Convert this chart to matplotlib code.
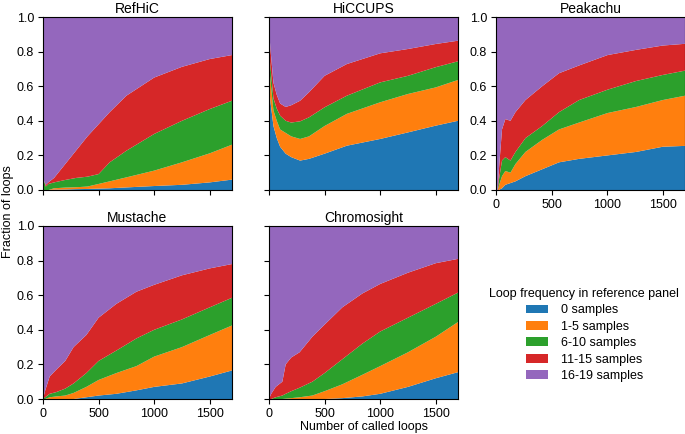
import matplotlib
matplotlib.use("Agg")
import matplotlib.pyplot as plt
import numpy as np

plt.rcParams['font.family'] = ['Liberation Sans', 'DejaVu Sans']

groups = ["0 samples", "1-5 samples", "6-10 samples", "11-15 samples", "16-19 samples"]
colors = ["#1f77b4", "#ff7f0e", "#2ca02c", "#d62728", "#9467bd"]

# cumulative upper edges (blue, orange, green, red); purple fills to 1
refhic_x = [0, 10, 25, 50, 100, 200, 300, 400, 500, 600, 750, 1000, 1250, 1500, 1700]
refhic_blue = [0, 0, 0, 0, 0.002, 0.003, 0.005, 0.006, 0.008, 0.010, 0.015, 0.023, 0.030, 0.044, 0.060]
refhic_orange = [0, 0, 0, 0, 0.010, 0.014, 0.016, 0.020, 0.035, 0.050, 0.073, 0.112, 0.160, 0.212, 0.262]
refhic_green = [0.10, 0.05, 0.02, 0.035, 0.044, 0.058, 0.070, 0.077, 0.092, 0.160, 0.227, 0.324, 0.400, 0.468, 0.516]
refhic_red = [0.10, 0.05, 0.03, 0.045, 0.070, 0.150, 0.230, 0.310, 0.380, 0.450, 0.545, 0.650, 0.712, 0.757, 0.780]

hiccups_x = [0, 15, 40, 70, 100, 150, 200, 280, 360, 500, 700, 1000, 1250, 1500, 1700]
hiccups_blue = [0.60, 0.50, 0.37, 0.30, 0.25, 0.21, 0.19, 0.17, 0.18, 0.21, 0.256, 0.295, 0.333, 0.372, 0.40]
hiccups_orange = [0.72, 0.62, 0.46, 0.40, 0.35, 0.33, 0.31, 0.295, 0.31, 0.37, 0.44, 0.507, 0.555, 0.593, 0.636]
hiccups_green = [0.80, 0.70, 0.53, 0.47, 0.43, 0.40, 0.39, 0.397, 0.42, 0.478, 0.545, 0.622, 0.66, 0.71, 0.744]
hiccups_red = [0.93, 0.80, 0.62, 0.55, 0.50, 0.48, 0.49, 0.516, 0.565, 0.66, 0.728, 0.79, 0.815, 0.844, 0.863]

peakachu_x = [0, 15, 24, 54, 84, 130, 175, 265, 416, 567, 748, 1004, 1260, 1500, 1700]
peakachu_blue = [0, 0, 0, 0.01, 0.03, 0.04, 0.05, 0.08, 0.12, 0.16, 0.18, 0.20, 0.22, 0.25, 0.255]
peakachu_orange = [0, 0, 0.02, 0.08, 0.11, 0.10, 0.15, 0.22, 0.29, 0.35, 0.39, 0.445, 0.48, 0.52, 0.545]
peakachu_green = [0, 0, 0.05, 0.17, 0.19, 0.17, 0.22, 0.30, 0.37, 0.45, 0.52, 0.58, 0.63, 0.665, 0.69]
peakachu_red = [0, 0, 0.10, 0.35, 0.41, 0.40, 0.45, 0.52, 0.60, 0.675, 0.72, 0.78, 0.81, 0.835, 0.845]

mustache_x = [0, 20, 60, 120, 200, 275, 390, 500, 660, 840, 1000, 1250, 1500, 1700]
mustache_blue = [0, 0, 0, 0, 0, 0, 0.01, 0.02, 0.03, 0.05, 0.07, 0.09, 0.13, 0.165]
mustache_orange = [0, 0, 0.01, 0.015, 0.02, 0.035, 0.07, 0.11, 0.15, 0.19, 0.245, 0.30, 0.37, 0.425]
mustache_green = [0, 0.01, 0.03, 0.04, 0.06, 0.09, 0.15, 0.22, 0.28, 0.35, 0.40, 0.46, 0.53, 0.585]
mustache_red = [0, 0.05, 0.13, 0.17, 0.22, 0.30, 0.37, 0.47, 0.55, 0.62, 0.66, 0.715, 0.755, 0.78]

chromo_x = [0, 20, 60, 120, 150, 200, 275, 390, 500, 660, 840, 1000, 1250, 1500, 1700]
chromo_blue = [0, 0, 0, 0, 0, 0, 0, 0, 0, 0.005, 0.015, 0.03, 0.07, 0.12, 0.155]
chromo_orange = [0, 0, 0, 0, 0.002, 0.005, 0.01, 0.02, 0.045, 0.085, 0.14, 0.19, 0.27, 0.36, 0.445]
chromo_green = [0, 0, 0.01, 0.02, 0.03, 0.045, 0.065, 0.10, 0.15, 0.23, 0.32, 0.39, 0.47, 0.55, 0.615]
chromo_red = [0, 0.03, 0.07, 0.10, 0.20, 0.24, 0.27, 0.36, 0.43, 0.53, 0.61, 0.665, 0.73, 0.785, 0.81]

panels = [
    ("RefHiC", refhic_x, [refhic_blue, refhic_orange, refhic_green, refhic_red]),
    ("HiCCUPS", hiccups_x, [hiccups_blue, hiccups_orange, hiccups_green, hiccups_red]),
    ("Peakachu", peakachu_x, [peakachu_blue, peakachu_orange, peakachu_green, peakachu_red]),
    ("Mustache", mustache_x, [mustache_blue, mustache_orange, mustache_green, mustache_red]),
    ("Chromosight", chromo_x, [chromo_blue, chromo_orange, chromo_green, chromo_red]),
]

fig = plt.figure(figsize=(6.85, 4.34), dpi=100)
lefts = [43 / 685, 269 / 685, 496 / 685]
bottoms = [1 - 190 / 434, 1 - 399 / 434]
w, h = 189 / 685, 173 / 434

for i, (name, x, edges) in enumerate(panels):
    r, c = divmod(i, 3)
    ax = fig.add_axes([lefts[c], bottoms[r], w, h])
    cum = np.vstack([np.zeros(len(x))] + [np.array(e) for e in edges] + [np.ones(len(x))])
    layers = np.diff(cum, axis=0)
    polys = ax.stackplot(x, layers, colors=colors, labels=groups, linewidth=0)
    ax.set_xlim(0, 1700)
    ax.set_ylim(0, 1)
    ax.set_xticks([0, 500, 1000, 1500])
    ax.set_yticks([0, 0.2, 0.4, 0.6, 0.8, 1.0])
    ax.set_yticklabels(["0.0", "0.2", "0.4", "0.6", "0.8", "1.0"])
    ax.tick_params(labelsize=9, length=3.5, pad=3)
    ax.set_title(name, fontsize=10, pad=3)
    if c == 1:
        ax.tick_params(labelleft=False)
    if r == 0 and c < 2:
        ax.tick_params(labelbottom=False)
    if name == "Chromosight":
        ax.set_xlabel("Number of called loops", fontsize=9, labelpad=1)

fig.text(0.012, 0.512, "Fraction of loops", rotation=90, va="center", ha="center", fontsize=9)
fig.legend(polys, groups, title="Loop frequency in reference panel", loc="center",
           bbox_to_anchor=(0.853, 0.228), frameon=False, fontsize=9, title_fontsize=9,
           handlelength=1.8, labelspacing=0.35, handletextpad=1.0)

fig.savefig("out.png", dpi=100)
